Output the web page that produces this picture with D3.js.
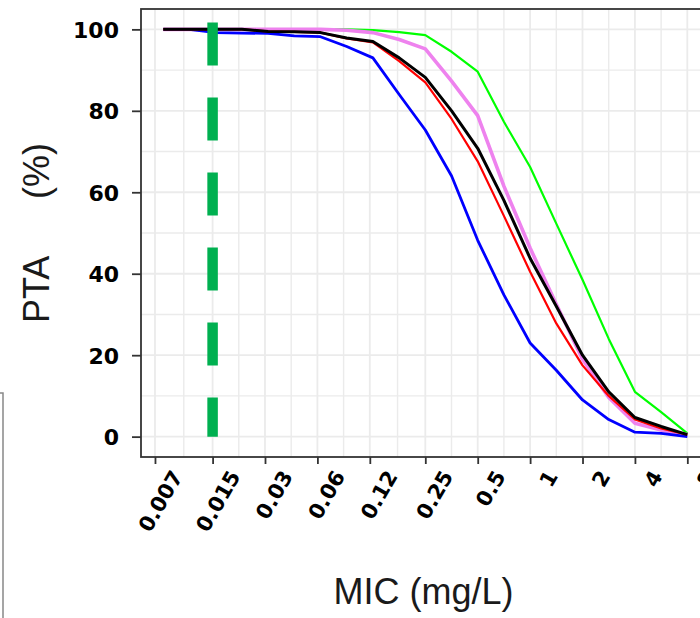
<!DOCTYPE html>
<html>
<head>
<meta charset="utf-8">
<script src="https://cdn.jsdelivr.net/npm/d3@7"></script>
<style>
  body { margin: 0; background: #fff; }
  svg { display: block; }
</style>
</head>
<body>
<svg width="700" height="618"></svg>
<script>
// MIC grid the curves were sampled at (half log2 steps)
var mic = [0.0078125, 0.011, 0.015625, 0.0221, 0.03125, 0.0442, 0.0625, 0.0884, 0.125, 0.177,
           0.25, 0.354, 0.5, 0.707, 1, 1.414, 2, 2.83, 4, 5.66, 8];

// PTA (%) for each regimen
var ptaGreen = [100, 100, 100, 100, 100, 100, 100, 100, 99.8, 99.3, 98.6, 94.5, 89.6, 77.3, 66.2, 52.3, 38.5, 24, 11, 6, 0.8];
var ptaPink  = [100, 100, 100, 100, 100, 100, 100, 99.8, 99.2, 97.5, 95.2, 87.3, 78.8, 61.5, 46.3, 32.5, 19, 9.6, 3.3, 1.6, 0.5];
var ptaBlue  = [100, 100, 99.2, 99.1, 99, 98.4, 98.2, 95.8, 93, 84, 75.3, 64, 48.2, 34.8, 23, 16.3, 9, 4.2, 1.1, 0.8, 0];
var ptaRed   = [100, 100, 100, 100, 99.5, 99.4, 99.2, 97.8, 96.8, 92.2, 87, 78, 67.6, 54.2, 40.5, 27.8, 17.5, 10, 4.2, 2, 0.5];
var ptaBlack = [100, 100, 100, 100, 99.5, 99.4, 99.2, 97.9, 97, 93, 88.2, 80, 70.8, 58, 43.8, 32, 20, 11, 4.7, 2.5, 0.5];

var xBreaks = [0.007, 0.015, 0.03, 0.06, 0.12, 0.25, 0.5, 1, 2, 4, 8];
var xLabels = ["0.007", "0.015", "0.03", "0.06", "0.12", "0.25", "0.5", "1", "2", "4", "8"];
var yBreaks = [0, 20, 40, 60, 80, 100];
var yMinor = [10, 30, 50, 70, 90];

var breakpoint = 0.015; // dashed green line
var breakpointTop = 101.7;

var series = [
  { values: ptaGreen, color: "#00ff00", width: 2.2 },
  { values: ptaPink,  color: "#ee82ee", width: 3.6 },
  { values: ptaBlue,  color: "#0000ff", width: 2.8 },
  { values: ptaRed,   color: "#ff0000", width: 2.2 },
  { values: ptaBlack, color: "#000000", width: 3 }
];

var panelL = 141, panelR = 709.6, panelT = 9, panelB = 457;

var svg = d3.select("svg");

var x = d3.scaleLog().base(2)
    .domain([Math.pow(2, -7.425), Math.pow(2, 3.425)])
    .range([panelL, panelR]);

var y = d3.scaleLinear()
    .domain([-5, 105])
    .range([panelB, panelT]);

// minor x grid sits half way between breaks (in log space)
var xMinor = d3.range(xBreaks.length - 1).map(function(i) {
  return Math.sqrt(xBreaks[i] * xBreaks[i + 1]);
});

var grid = svg.append("g");

function vLines(vals, w) {
  grid.append("g").selectAll("line")
    .data(vals)
    .enter().append("line")
      .attr("x1", d => x(d)).attr("x2", d => x(d))
      .attr("y1", panelT).attr("y2", panelB)
      .attr("stroke", "#ebebeb").attr("stroke-width", w);
}
function hLines(vals, w) {
  grid.append("g").selectAll("line")
    .data(vals)
    .enter().append("line")
      .attr("x1", panelL).attr("x2", panelR)
      .attr("y1", d => y(d)).attr("y2", d => y(d))
      .attr("stroke", "#ebebeb").attr("stroke-width", w);
}
vLines(xMinor, 1.4);
hLines(yMinor, 1.4);
vLines(xBreaks, 1.8);
hLines(yBreaks, 1.8);

var line = d3.line()
    .x(function(d, i) { return x(mic[i]); })
    .y(function(d) { return y(d); });

svg.append("g")
  .selectAll("path")
  .data(series)
  .enter().append("path")
    .attr("d", d => line(d.values))
    .attr("fill", "none")
    .attr("stroke", d => d.color)
    .attr("stroke-width", d => d.width)
    .attr("stroke-linejoin", "round");

// breakpoint line, drawn top to bottom so the dashes start at the top
svg.append("path")
  .attr("d", d3.line()([[x(breakpoint), y(breakpointTop)], [x(breakpoint), y(0)]]))
  .attr("stroke", "#00b050")
  .attr("stroke-width", 10.5)
  .attr("stroke-dasharray", "43,32");

// panel border
svg.append("rect")
  .attr("x", panelL).attr("y", panelT)
  .attr("width", panelR - panelL).attr("height", panelB - panelT)
  .attr("fill", "none")
  .attr("stroke", "#333")
  .attr("stroke-width", 1.8);

// axes
var xAxis = svg.append("g")
  .attr("transform", "translate(0," + panelB + ")")
  .call(d3.axisBottom(x).tickValues(xBreaks).tickFormat((d, i) => xLabels[i]).tickSize(7).tickSizeOuter(0));

var yAxis = svg.append("g")
  .attr("transform", "translate(" + panelL + ",0)")
  .call(d3.axisLeft(y).tickValues(yBreaks).tickSize(9).tickSizeOuter(0));

[xAxis, yAxis].forEach(function(ax) {
  ax.select(".domain").remove();
  ax.selectAll(".tick line").attr("stroke", "#333").attr("stroke-width", 1.8);
});

yAxis.selectAll(".tick text")
  .attr("x", -22)
  .attr("dy", "0.36em")
  .style("font-family", "'DejaVu Sans', sans-serif")
  .style("font-weight", "bold")
  .style("font-size", "22px")
  .attr("fill", "#000");

xAxis.selectAll(".tick text")
  .attr("x", 0).attr("y", 0).attr("dy", null)
  .attr("text-anchor", "end")
  .attr("transform", "translate(28,19) rotate(-60)")
  .style("font-family", "'DejaVu Sans', sans-serif")
  .style("font-weight", "bold")
  .style("font-size", "21px")
  .attr("fill", "#000");

// axis titles
svg.append("text")
  .attr("x", 423.5).attr("y", 604)
  .attr("text-anchor", "middle")
  .style("font-family", "'Liberation Sans', Arial, sans-serif")
  .style("font-size", "36px")
  .attr("fill", "#1a1a1a")
  .text("MIC (mg/L)");

svg.append("text")
  .attr("transform", "translate(49,323) rotate(-90)")
  .attr("text-anchor", "start")
  .style("font-family", "'Liberation Sans', Arial, sans-serif")
  .style("font-size", "36px")
  .attr("fill", "#1a1a1a")
  .text("PTA");

svg.append("text")
  .attr("transform", "translate(49,143) rotate(-90)")
  .attr("text-anchor", "end")
  .style("font-family", "'Liberation Sans', Arial, sans-serif")
  .style("font-size", "36px")
  .attr("fill", "#1a1a1a")
  .text("(%)");

// edge of a neighbouring box at the lower left
svg.append("path")
  .attr("d", d3.line()([[0, 393], [3, 393], [3, 618]]))
  .attr("fill", "none")
  .attr("stroke", "#888")
  .attr("stroke-width", 1.5);
</script>
</body>
</html>
